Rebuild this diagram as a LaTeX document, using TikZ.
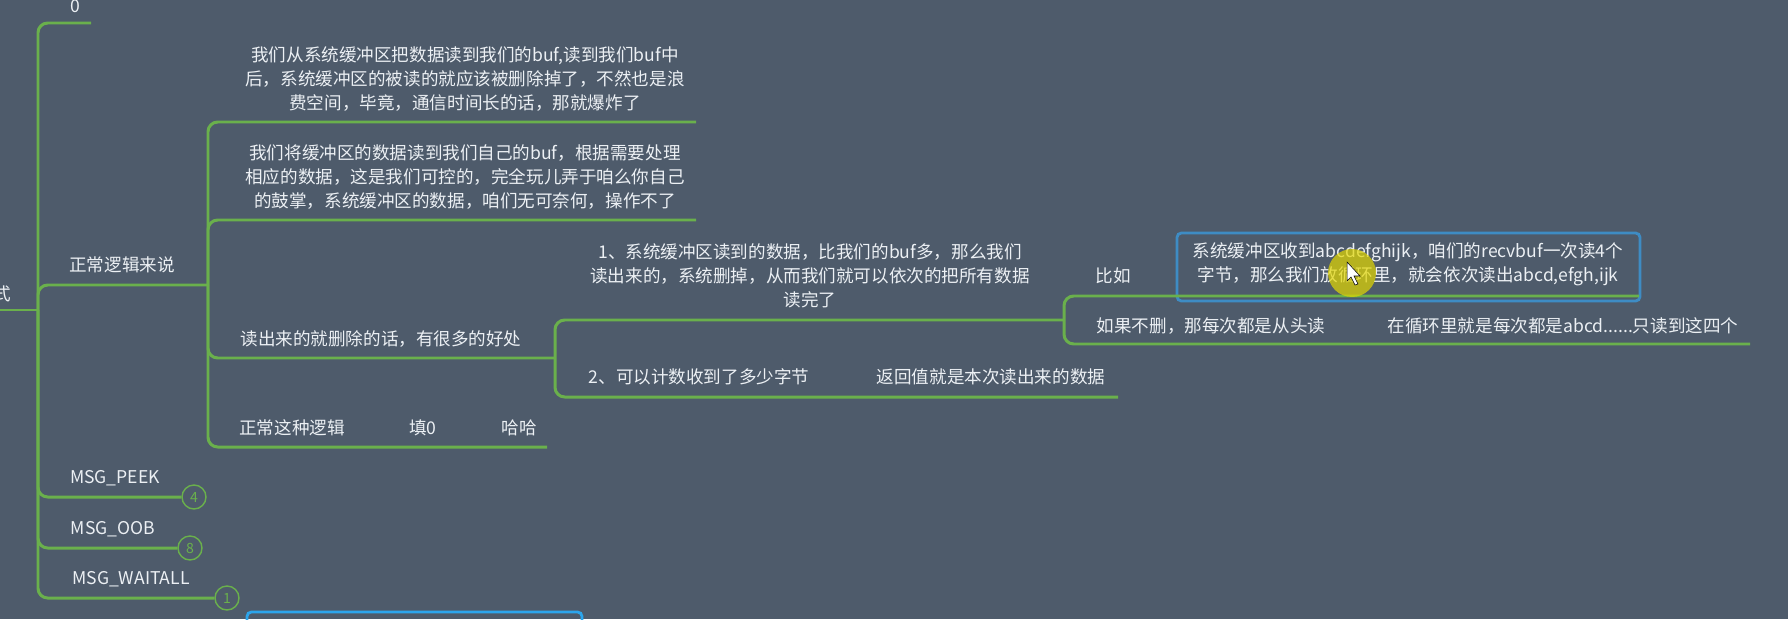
\documentclass[tikz,border=0pt]{standalone}
\usepackage{fontspec}
\setmainfont{Noto Sans CJK SC}
\definecolor{bg}{RGB}{78,91,107}
\definecolor{leaf}{RGB}{106,176,76}
\definecolor{ink}{RGB}{236,240,244}
\definecolor{frame}{RGB}{62,140,196}
\definecolor{frameb}{RGB}{44,165,236}
\tikzset{
	topic/.style={text=ink,inner sep=0pt,align=center,font=\fontsize{10}{13.6}\selectfont},
	branch/.style={draw=leaf,line width=1.7pt,rounded corners=5.5pt},
	badge/.style={draw=leaf,line width=0.8pt,circle,minimum size=0.48cm,inner sep=0pt,text=leaf,font=\fontsize{8}{8}\selectfont},
	card/.style={draw=frame,line width=1.6pt,rounded corners=2.5pt}
}
\begin{document}
\begin{tikzpicture}[x=0.02cm,y=-0.02cm]
			\fill[bg] (0,0) rectangle (1788,619);
			\useasboundingbox (0,0) rectangle (1788,619);
			\clip (0,0) rectangle (1788,619);
			
			% level 1
			\node[topic] (mode) at (2,294) {式};
			\node[topic] (zero) at (75,6) {0};
			\node[topic] (normal) at (122,265) {正常逻辑来说};
			\node[topic] (peek) at (115,478) {MSG\_PEEK};
			\node[topic] (oob) at (113,529) {MSG\_OOB};
			\node[topic] (waitall) at (131,579) {MSG\_WAITALL};
			\node[badge] (n4) at (194,497) {4};
			\node[badge] (n8) at (190,548) {8};
			\node[badge] (n1) at (227,598) {1};
			
			% level 2
			\node[topic] (keep) at (465,79) {我们从系统缓冲区把数据读到我们的buf,读到我们buf中\\后，系统缓冲区的被读的就应该被删除掉了，不然也是浪\\费空间，毕竟，通信时间长的话，那就爆炸了};
			\node[topic] (own) at (465,177) {我们将缓冲区的数据读到我们自己的buf，根据需要处理\\相应的数据，这是我们可控的，完全玩儿弄于咱么你自己\\的鼓掌，系统缓冲区的数据，咱们无可奈何，操作不了};
			\node[topic] (del) at (381,339) {读出来的就删除的话，有很多的好处};
			\node[topic] (logic) at (292,428) {正常这种逻辑};
			\node[topic] (fill) at (423,428) {填0};
			\node[topic] (haha) at (519,428) {哈哈};
			
			% level 3
			\node[topic] (more) at (810,276) {1、系统缓冲区读到的数据，比我们的buf多，那么我们\\读出来的，系统删掉，从而我们就可以依次的把所有数据\\读完了};
			\node[topic] (count) at (699,377) {2、可以计数收到了多少字节};
			\node[topic] (ret) at (991,377) {返回值就是本次读出来的数据};
			
			% level 4
			\node[topic] (eg) at (1113,276) {比如};
			\draw[card] (1177,233) rectangle (1640,301);
			\node[topic] (egtext) at (1408,264) {系统缓冲区收到abcdefghijk，咱们的recvbuf一次读4个\\字节，那么我们放循环里，就会依次读出abcd,efgh,ijk};
			\node[topic] (nodel) at (1211,326) {如果不删，那每次都是从头读};
			\node[topic] (loop) at (1563,326) {在循环里就是每次都是abcd......只读到这四个};
			\draw[card,draw=frameb] (247,612) rectangle (582,660);
			
			\coordinate (in) at (0,310);
			\coordinate (hub) at (38,310);
			\coordinate (zeroend) at (91,23);
			\coordinate (hub2) at (208,285);
			\coordinate (keepend) at (696,122);
			\coordinate (ownend) at (696,220);
			\coordinate (hub3) at (555,358);
			\coordinate (logicend) at (547,447);
			\coordinate (hub4) at (1064,320);
			\coordinate (countend) at (1118,397);
			\coordinate (egend) at (1639,296);
			\coordinate (nodelend) at (1750,344);
			
			\draw[branch] (in) -- (hub);
			\draw[branch] (hub) |- (zeroend);
			\draw[branch] (hub) |- (hub2);
			\draw[branch] (hub) |- (n4.west);
			\draw[branch] (hub) |- (n8.west);
			\draw[branch] (hub) |- (n1.west);
			\draw[branch] (hub2) |- (keepend);
			\draw[branch] (hub2) |- (ownend);
			\draw[branch] (hub2) |- (hub3);
			\draw[branch] (hub2) |- (logicend);
			\draw[branch] (hub3) |- (hub4);
			\draw[branch] (hub3) |- (countend);
			\draw[branch] (hub4) |- (egend);
			\draw[branch] (hub4) |- (nodelend);
			
			% cursor
			\fill[yellow!75!olive,opacity=0.7] (1352,273) circle (0.48cm);
			\filldraw[fill=white,draw=black,line width=0.3pt] (1347,262) -- (1347,281) -- (1351,277) -- (1355,285) -- (1358,284) -- (1354,276) -- (1360,276) -- cycle;
		\end{tikzpicture}
\end{document}
